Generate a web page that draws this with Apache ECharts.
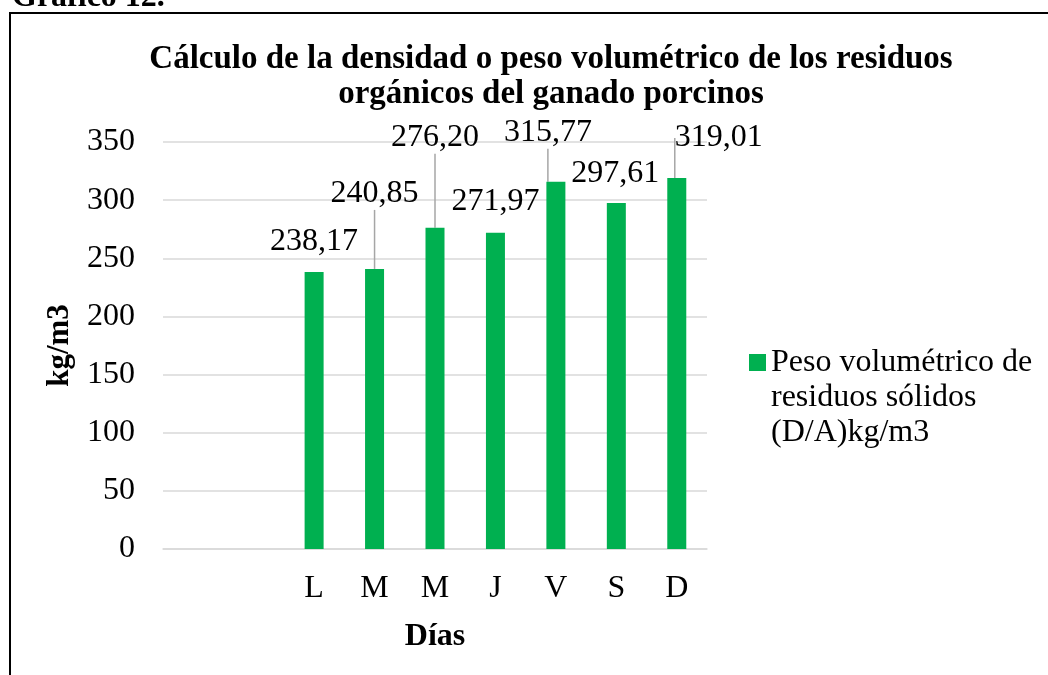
<!DOCTYPE html>
<html>
<head>
<meta charset="utf-8">
<script src="https://cdn.jsdelivr.net/npm/echarts@6/dist/echarts.min.js"></script>
<style>
  html, body { margin: 0; padding: 0; background: #fff; }
  #chart { width: 1048px; height: 675px; }
</style>
</head>
<body>
<div id="chart"></div>
<script>
// datos del gráfico
const dias = ["", "", "L", "M", "M", "J", "V", "S", "D"];
const pesoVolumetrico = [null, null, 238.17, 240.85, 276.20, 271.97, 315.77, 297.61, 319.01];
const yTicks = [0, 50, 100, 150, 200, 250, 300, 350];
const serieNombre = "Peso volumétrico de\nresiduos sólidos\n(D/A)kg/m3";

const fuente = "Liberation Serif";

const myChart = echarts.init(document.getElementById("chart"));

// desplazamiento de etiquetas (como en Excel)
const moverEtiqueta = {
    2: [0, -9],
    3: [0, -54],
    4: [0, -69],
    5: [0, -10],
    6: [-8, -28],
    7: [-1, -8],
    8: [42, -19],
};
const conLinea = { 3: true, 4: true, 6: true, 8: true };

myChart.setOption({
    backgroundColor: "#fff",
    animation: false,
    title: {
        text: "Cálculo de la densidad o peso volumétrico de los residuos\norgánicos del ganado porcinos",
        left: 546,
        top: 37,
        textAlign: "center",
        textStyle: {
            fontFamily: fuente,
            fontWeight: "bold",
            fontSize: 33,
            lineHeight: 35,
            color: "#000",
        },
    },
    graphic: [
        {
            type: "text",
            x: 12,
            y: 14,
            style: {
                text: "Gráfico 12.",
                fontFamily: fuente,
                fontWeight: "bold",
                fontSize: 32,
                fill: "#000",
                verticalAlign: "bottom",
            },
        },
        {
            type: "polyline",
            shape: { points: [[10, 675], [10, 13], [1048, 13]] },
            style: { stroke: "#000", lineWidth: 2, fill: null },
        },
    ],
    legend: {
        data: [serieNombre],
        orient: "vertical",
        left: 749,
        top: 275,
        padding: 0,
        icon: "rect",
        itemWidth: 17,
        itemHeight: 17,
        formatter: function (name) {
            // dos líneas vacías para alinear el cuadro con la primera línea
            return "\n\n" + name;
        },
        textStyle: {
            fontFamily: fuente,
            fontSize: 32,
            lineHeight: 35,
            color: "#000",
        },
    },
    grid: {
        left: 163,
        right: 341,
        top: 142,
        bottom: 126,
        containLabel: false,
    },
    xAxis: {
        type: "category",
        data: dias,
        name: "Días",
        nameLocation: "middle",
        nameGap: 72,
        nameTextStyle: {
            fontFamily: fuente,
            fontWeight: "bold",
            fontSize: 32,
            color: "#000",
        },
        axisLine: { lineStyle: { color: "#d9d9d9", width: 1.5 } },
        axisTick: { show: false },
        axisLabel: {
            fontFamily: fuente,
            fontSize: 32,
            color: "#000",
            margin: 24,
        },
    },
    yAxis: {
        type: "value",
        min: yTicks[0],
        max: yTicks[yTicks.length - 1],
        interval: 50,
        name: "kg/m3",
        nameLocation: "middle",
        nameGap: 88,
        nameRotate: 90,
        nameTextStyle: {
            fontFamily: fuente,
            fontWeight: "bold",
            fontSize: 31,
            color: "#000",
        },
        axisLine: { show: false },
        axisTick: { show: false },
        axisLabel: {
            fontFamily: fuente,
            fontSize: 32,
            color: "#000",
            margin: 28,
        },
        splitLine: { lineStyle: { color: "#d9d9d9", width: 1.5 } },
    },
    series: [
        {
            name: serieNombre,
            type: "bar",
            data: pesoVolumetrico.map(function (v, i) {
                return {
                    value: v,
                    labelLine: { show: !!conLinea[i] },
                };
            }),
            barWidth: 19,
            itemStyle: { color: "#00b050" },
            label: {
                show: true,
                position: "top",
                distance: 5,
                fontFamily: fuente,
                fontSize: 32,
                color: "#000",
                formatter: function (p) {
                    return p.value == null ? "" : p.value.toFixed(2).replace(".", ",");
                },
            },
            labelLine: {
                show: true,
                lineStyle: { color: "#a6a6a6", width: 1.5 },
            },
            labelLayout: function (p) {
                const d = moverEtiqueta[p.dataIndex] || [0, 0];
                return { dx: d[0], dy: d[1] };
            },
        },
    ],
});
</script>
</body>
</html>
